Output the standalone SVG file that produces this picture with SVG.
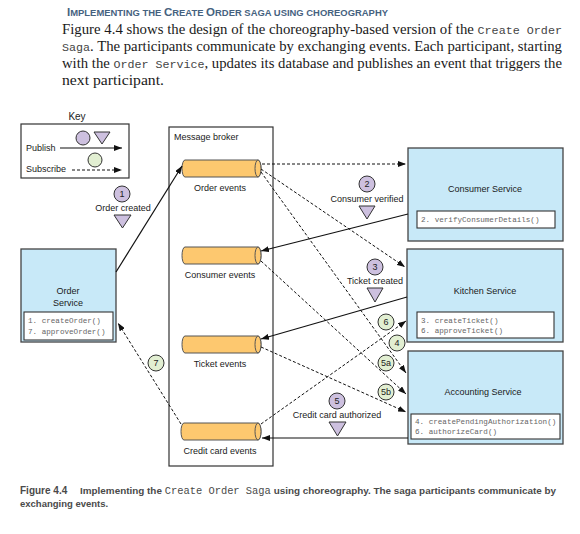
<svg xmlns="http://www.w3.org/2000/svg" width="580" height="534" viewBox="0 0 580 534">
<defs>
<style>
.sans{font-family:"Liberation Sans",Arial,sans-serif;}
.serif{font-family:"Liberation Serif","Times New Roman",serif;}
.mono{font-family:"Liberation Mono","Courier New",monospace;}
.lbl{font-family:"Liberation Sans",Arial,sans-serif;font-size:9px;fill:#1a1a1a;}
.code{font-family:"Liberation Mono","Courier New",monospace;font-size:7.6px;fill:#666;}
.svc{fill:#c8e9f8;stroke:#444;stroke-width:1.3;}
.inner{fill:#fff;stroke:#333;stroke-width:1.1;}
.cyl{fill:#fdc86f;stroke:#555;stroke-width:1;}
.pub{fill:#cdc0df;stroke:#333;stroke-width:1;}
.sub{fill:#e2efd2;stroke:#333;stroke-width:1;}
.num{font-family:"Liberation Sans",Arial,sans-serif;font-size:9px;fill:#222;text-anchor:middle;}
.solid{fill:none;stroke:#111;stroke-width:1.2;marker-end:url(#ah);}
.dash{fill:none;stroke:#111;stroke-width:1;stroke-dasharray:3 2;marker-end:url(#ah);}
</style>
<marker id="ah" viewBox="0 0 8 6" refX="8" refY="3" markerWidth="8" markerHeight="6" markerUnits="userSpaceOnUse" orient="auto">
<path d="M0,0 L8,3 L0,6 z" fill="#111"/>
</marker>
</defs>
<rect width="580" height="534" fill="#fff"/>

<g id="intro">
<text x="67" y="16" class="sans" font-weight="bold" fill="#46627f" font-size="8.6" textLength="321" lengthAdjust="spacingAndGlyphs"><tspan font-size="10.5">I</tspan>MPLEMENTING THE <tspan font-size="10.5">C</tspan>REATE <tspan font-size="10.5">O</tspan>RDER SAGA USING CHOREOGRAPHY</text>
<text x="62" y="34" class="serif" font-size="14.5" fill="#1a1a1a" textLength="500" lengthAdjust="spacingAndGlyphs">Figure 4.4 shows the design of the choreography-based version of the <tspan class="mono" font-size="11.5" fill="#444">Create Order</tspan></text>
<text x="62" y="51" class="serif" font-size="14.5" fill="#1a1a1a" textLength="500" lengthAdjust="spacingAndGlyphs"><tspan class="mono" font-size="11.5" fill="#444">Saga</tspan>. The participants communicate by exchanging events. Each participant, starting</text>
<text x="62" y="68" class="serif" font-size="14.5" fill="#1a1a1a" textLength="500" lengthAdjust="spacingAndGlyphs">with the <tspan class="mono" font-size="11.5" fill="#444">Order Service</tspan>, updates its database and publishes an event that triggers the</text>
<text x="62" y="85" class="serif" font-size="14.5" fill="#1a1a1a" textLength="102" lengthAdjust="spacingAndGlyphs">next participant.</text>
</g>

<g id="key">
<text x="77" y="120" class="sans" font-size="10" fill="#222" text-anchor="middle">Key</text>
<rect x="21" y="124" width="108" height="54" fill="#fff" stroke="#333" stroke-width="1.2"/>
<circle cx="83" cy="138" r="7" class="pub"/>
<path d="M94,132 L110,132 L102,144 Z" class="pub"/>
<text x="26" y="151" class="lbl">Publish</text>
<path d="M60,148 L122,148" class="solid" stroke-width="1"/>
<circle cx="95" cy="160" r="7" class="sub"/>
<text x="26" y="172" class="lbl">Subscribe</text>
<path d="M72,170 L122,170" class="dash"/>
</g>

<g id="broker">
<rect x="169" y="127" width="104" height="339" fill="#fff" stroke="#333" stroke-width="1.2"/>
<text x="174" y="140" class="lbl" font-size="8.5">Message broker</text>
</g>

<g id="order-events">
<path d="M185,160 H258 A3,8.5 0 0 1 258,177 H185 A3,8.5 0 0 1 185,160 Z" class="cyl"/>
<ellipse cx="258" cy="168.5" rx="3" ry="8.5" class="cyl"/>
<text x="220" y="191" class="lbl" text-anchor="middle">Order events</text>
</g>
<g id="consumer-events">
<path d="M185,247 H258 A3,8.5 0 0 1 258,264 H185 A3,8.5 0 0 1 185,247 Z" class="cyl"/>
<ellipse cx="258" cy="255.5" rx="3" ry="8.5" class="cyl"/>
<text x="220" y="278" class="lbl" text-anchor="middle">Consumer events</text>
</g>
<g id="ticket-events">
<path d="M185,336 H258 A3,8.5 0 0 1 258,353 H185 A3,8.5 0 0 1 185,336 Z" class="cyl"/>
<ellipse cx="258" cy="344.5" rx="3" ry="8.5" class="cyl"/>
<text x="220" y="367" class="lbl" text-anchor="middle">Ticket events</text>
</g>
<g id="credit-card-events">
<path d="M184,423 H258 A3,8.5 0 0 1 258,440 H184 A3,8.5 0 0 1 184,423 Z" class="cyl"/>
<ellipse cx="258" cy="431.5" rx="3" ry="8.5" class="cyl"/>
<text x="220" y="454" class="lbl" text-anchor="middle">Credit card events</text>
</g>

<g id="order-service">
<rect x="21" y="249" width="95" height="93" class="svc"/>
<text x="68" y="294" class="lbl" text-anchor="middle">Order</text>
<text x="68" y="306" class="lbl" text-anchor="middle">Service</text>
<rect x="24" y="312" width="89" height="28" class="inner"/>
<text x="28" y="323" class="code">1. createOrder()</text>
<text x="28" y="334" class="code">7. approveOrder()</text>
</g>

<g id="consumer-service">
<rect x="408" y="148" width="155" height="93" class="svc"/>
<text x="485" y="192" class="lbl" text-anchor="middle">Consumer Service</text>
<rect x="417" y="211" width="138" height="17" class="inner"/>
<text x="421" y="222" class="code">2. verifyConsumerDetails()</text>
</g>

<g id="kitchen-service">
<rect x="407" y="249" width="156" height="93" class="svc"/>
<text x="485" y="294" class="lbl" text-anchor="middle">Kitchen Service</text>
<rect x="417" y="312" width="137" height="26" class="inner"/>
<text x="421" y="323" class="code">3. createTicket()</text>
<text x="421" y="333" class="code">6. approveTicket()</text>
</g>

<g id="accounting-service">
<rect x="408" y="351" width="155" height="93" class="svc"/>
<text x="483" y="395" class="lbl" text-anchor="middle">Accounting Service</text>
<rect x="411" y="414" width="149" height="25" class="inner"/>
<text x="415" y="424" class="code">4. createPendingAuthorization()</text>
<text x="415" y="434" class="code">6. authorizeCard()</text>
</g>

<g id="connectors">
<path d="M116,272 L182,166" class="solid"/>
<path d="M408,214 L261,251" class="solid"/>
<path d="M407,297 L261,339" class="solid"/>
<path d="M408,438 L262,438" class="solid"/>
<path d="M262,164 L406,164" class="dash"/>
<path d="M261,169 L405,267" class="dash"/>
<path d="M261,172 L406,373" class="dash"/>
<path d="M261,261 L406,394" class="dash"/>
<path d="M261,347 L406,412" class="dash"/>
<path d="M261,424 L406,321" class="dash"/>
<path d="M181,424 L118,323" class="dash"/>
</g>

<g id="event-labels">
<circle cx="122" cy="194" r="8" class="pub"/>
<text x="122" y="197" class="num">1</text>
<text x="123" y="211" class="lbl" text-anchor="middle">Order created</text>
<path d="M114,215 L131,215 L122.5,228 Z" class="pub"/>

<circle cx="367" cy="184" r="8" class="pub"/>
<text x="367" y="187" class="num">2</text>
<text x="367" y="202" class="lbl" text-anchor="middle">Consumer verified</text>
<path d="M359,206 L375,206 L367,219 Z" class="pub"/>

<circle cx="375" cy="267" r="8" class="pub"/>
<text x="375" y="270" class="num">3</text>
<text x="375" y="284" class="lbl" text-anchor="middle">Ticket created</text>
<path d="M367,288 L383,288 L375,302 Z" class="pub"/>

<circle cx="337" cy="401" r="8" class="pub"/>
<text x="337" y="404" class="num">5</text>
<text x="337" y="418" class="lbl" text-anchor="middle">Credit card authorized</text>
<path d="M329,422 L346,422 L337.5,436 Z" class="pub"/>

<circle cx="156" cy="363" r="8" class="sub"/>
<text x="156" y="366" class="num">7</text>
<circle cx="386" cy="322" r="8" class="sub"/>
<text x="386" y="325" class="num">6</text>
<circle cx="397" cy="343" r="8" class="sub"/>
<text x="397" y="346" class="num">4</text>
<circle cx="386" cy="363" r="8" class="sub"/>
<text x="386" y="366" class="num">5a</text>
<circle cx="386" cy="392" r="8" class="sub"/>
<text x="386" y="395" class="num">5b</text>
</g>

<g id="caption">
<text x="20" y="494" class="sans" font-weight="bold" font-size="10" fill="#4a4a4a">Figure 4.4</text>
<text x="80" y="494" class="sans" font-weight="bold" font-size="9.5" fill="#4a4a4a" textLength="476" lengthAdjust="spacingAndGlyphs">Implementing the <tspan class="mono" font-weight="normal" font-size="10">Create Order Saga</tspan> using choreography. The saga participants communicate by</text>
<text x="20" y="507" class="sans" font-weight="bold" font-size="9.5" fill="#4a4a4a">exchanging events.</text>
</g>
</svg>
